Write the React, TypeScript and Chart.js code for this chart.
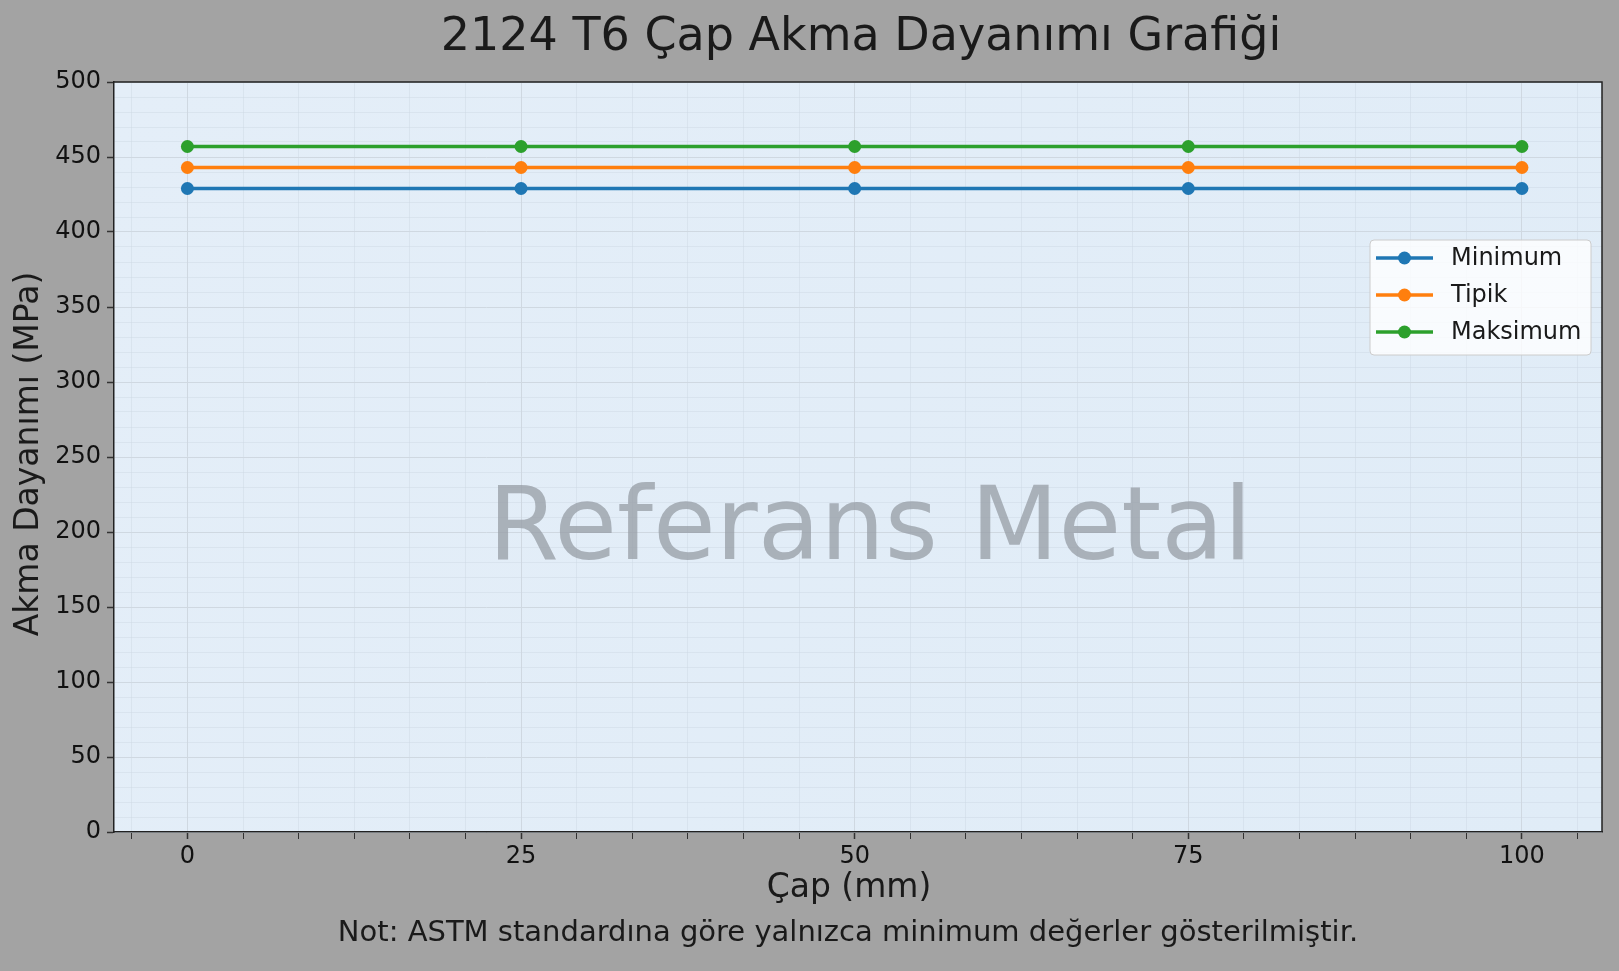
import { useEffect, useRef } from 'react';
import { Chart, registerables } from 'chart.js';

Chart.register(...registerables);

// çap (mm) ve akma dayanımı (MPa) değerleri
const diameters = [0, 25, 50, 75, 100];
const minimumValues = [429, 429, 429, 429, 429];
const typicalValues = [443, 443, 443, 443, 443];
const maximumValues = [457, 457, 457, 457, 457];

const seriesLabels = ['Minimum', 'Tipik', 'Maksimum'];
const seriesColors = ['#1f77b4', '#ff7f0e', '#2ca02c'];

const xMajorTicks = [0, 25, 50, 75, 100];
const yMajorTicks = [0, 50, 100, 150, 200, 250, 300, 350, 400, 450, 500];

const chartTitle = '2124 T6 Çap Akma Dayanımı Grafiği';
const xTitle = 'Çap (mm)';
const yTitle = 'Akma Dayanımı (MPa)';
const footNote = 'Not: ASTM standardına göre yalnızca minimum değerler gösterilmiştir.';
const watermark = 'Referans Metal';

const FONT = '"DejaVu Sans", sans-serif';
const X_MIN = -5.5;
const X_MAX = 106;

// minor ticks: 6 parts between x majors, every 10 on y
const xMinorStep = 25 / 6;
const xTickValues: number[] = [];
for (let k = Math.ceil(X_MIN / xMinorStep); k * xMinorStep <= X_MAX; k++) xTickValues.push(k * xMinorStep);
const yTickValues: number[] = [];
for (let v = 0; v <= 500; v += 10) yTickValues.push(v);

const isMajor = (v: number, majors: number[]) => majors.some((m) => Math.abs(m - v) < 1e-6);

const decorPlugin = {
  id: 'decor',
  beforeDraw(chart: Chart) {
    const { ctx, chartArea: a } = chart;
    ctx.save();
    ctx.fillStyle = '#a3a3a3';
    ctx.fillRect(0, 0, chart.width, chart.height);
    const g = ctx.createLinearGradient(a.left, a.top, a.right, a.bottom);
    g.addColorStop(0, '#e4eef8');
    g.addColorStop(1, '#e0ecf7');
    ctx.fillStyle = g;
    ctx.fillRect(a.left, a.top, a.right - a.left, a.bottom - a.top);
    ctx.restore();
  },
  beforeDatasetsDraw(chart: Chart) {
    const { ctx } = chart;
    ctx.save();
    ctx.font = `102px ${FONT}`;
    ctx.fillStyle = 'rgba(150,156,164,0.75)';
    ctx.textAlign = 'center';
    ctx.textBaseline = 'middle';
    ctx.fillText(watermark, 870, 532);
    ctx.restore();
  },
  afterDraw(chart: Chart) {
    const { ctx, chartArea: a } = chart;
    ctx.save();
    // top and right spines
    ctx.strokeStyle = '#222';
    ctx.lineWidth = 1.5;
    ctx.beginPath();
    ctx.moveTo(a.left, a.top);
    ctx.lineTo(a.right, a.top);
    ctx.lineTo(a.right, a.bottom);
    ctx.stroke();

    ctx.fillStyle = '#1a1a1a';
    ctx.textAlign = 'center';
    ctx.textBaseline = 'middle';
    ctx.font = `46px ${FONT}`;
    ctx.fillText(chartTitle, 861, 38);
    ctx.font = `33px ${FONT}`;
    ctx.fillText(xTitle, 849, 888);
    ctx.font = `29px ${FONT}`;
    ctx.fillText(footNote, 848, 933);
    ctx.save();
    ctx.translate(29, 454);
    ctx.rotate(-Math.PI / 2);
    ctx.font = `33px ${FONT}`;
    ctx.fillText(yTitle, 0, 0);
    ctx.restore();

    // legend
    const bx = 1370, by = 240, bw = 221, bh = 115;
    ctx.beginPath();
    ctx.roundRect(bx, by, bw, bh, 4);
    ctx.fillStyle = 'rgba(255,255,255,0.8)';
    ctx.fill();
    ctx.strokeStyle = '#cccccc';
    ctx.lineWidth = 1;
    ctx.stroke();
    ctx.font = `24px ${FONT}`;
    ctx.textAlign = 'left';
    chart.data.datasets.forEach((ds, i) => {
      const y = 258 + i * 37;
      const color = ds.borderColor as string;
      ctx.strokeStyle = color;
      ctx.lineWidth = 3.3;
      ctx.beginPath();
      ctx.moveTo(1376, y);
      ctx.lineTo(1433, y);
      ctx.stroke();
      ctx.fillStyle = color;
      ctx.beginPath();
      ctx.arc(1404.5, y, 6.5, 0, Math.PI * 2);
      ctx.fill();
      ctx.fillStyle = '#1a1a1a';
      ctx.fillText(ds.label as string, 1451, y + 1);
    });
    ctx.restore();
  },
};

export default function App() {
  const chartRef = useRef<HTMLCanvasElement>(null);
  const chartInstance = useRef<Chart | null>(null);

  useEffect(() => {
    document.body.style.margin = '0';
    if (!chartRef.current) return;
    const ctx = chartRef.current.getContext('2d');
    if (!ctx) return;
    if (chartInstance.current) chartInstance.current.destroy();

    const series = [minimumValues, typicalValues, maximumValues];

    chartInstance.current = new Chart(ctx, {
      type: 'line',
      data: {
        datasets: series.map((vals, i) => ({
          label: seriesLabels[i],
          data: diameters.map((d, j) => ({ x: d, y: vals[j] })),
          borderColor: seriesColors[i],
          backgroundColor: seriesColors[i],
          borderWidth: 3.3,
          pointRadius: 6.5,
          pointHoverRadius: 6.5,
          pointBorderWidth: 0,
          fill: false,
          tension: 0,
        })),
      },
      options: {
        responsive: false,
        animation: false,
        devicePixelRatio: 1,
        layout: { padding: { top: 82, right: 17, bottom: 0, left: 0 } },
        plugins: {
          legend: { display: false },
          title: { display: false },
          tooltip: { enabled: false },
        },
        scales: {
          x: {
            type: 'linear',
            min: X_MIN,
            max: X_MAX,
            afterBuildTicks: (s: any) => {
              s.ticks = xTickValues.map((v) => ({ value: v }));
            },
            afterFit: (s: any) => {
              s.height = 139;
            },
            ticks: {
              autoSkip: false,
              maxRotation: 0,
              padding: 3,
              color: '#111',
              font: { family: FONT, size: 24 },
              callback: (v: any) => (isMajor(Number(v), xMajorTicks) ? String(Math.round(Number(v))) : ''),
            },
            grid: {
              color: (c: any) => (isMajor(c.tick?.value ?? 0, xMajorTicks) ? '#cfd8e1' : 'rgba(205,215,226,0.45)'),
              lineWidth: 1,
              tickColor: '#333',
              tickWidth: (c: any) => (isMajor(c.tick?.value ?? 0, xMajorTicks) ? 1.5 : 1),
              tickLength: 7,
            },
            border: { display: true, color: '#222', width: 1.5 },
          },
          y: {
            min: 0,
            max: 500,
            afterBuildTicks: (s: any) => {
              s.ticks = yTickValues.map((v) => ({ value: v }));
            },
            afterFit: (s: any) => {
              s.width = 114;
            },
            ticks: {
              autoSkip: false,
              padding: 6,
              color: '#111',
              font: { family: FONT, size: 24 },
              callback: (v: any) => (isMajor(Number(v), yMajorTicks) ? String(v) : ''),
            },
            grid: {
              color: (c: any) => (isMajor(c.tick?.value ?? 0, yMajorTicks) ? '#cfd8e1' : 'rgba(205,215,226,0.45)'),
              lineWidth: 1,
              tickColor: (c: any) => (isMajor(c.tick?.value ?? 0, yMajorTicks) ? '#333' : 'rgba(0,0,0,0)'),
              tickWidth: 1.5,
              tickLength: 7,
            },
            border: { display: true, color: '#222', width: 1.5 },
          },
        },
      },
      plugins: [decorPlugin],
    });

    return () => {
      if (chartInstance.current) {
        chartInstance.current.destroy();
        chartInstance.current = null;
      }
    };
  }, []);

  return (
    <div style={{ width: 1619, height: 971 }}>
      <canvas ref={chartRef} width={1619} height={971} style={{ display: 'block' }} />
    </div>
  );
}
